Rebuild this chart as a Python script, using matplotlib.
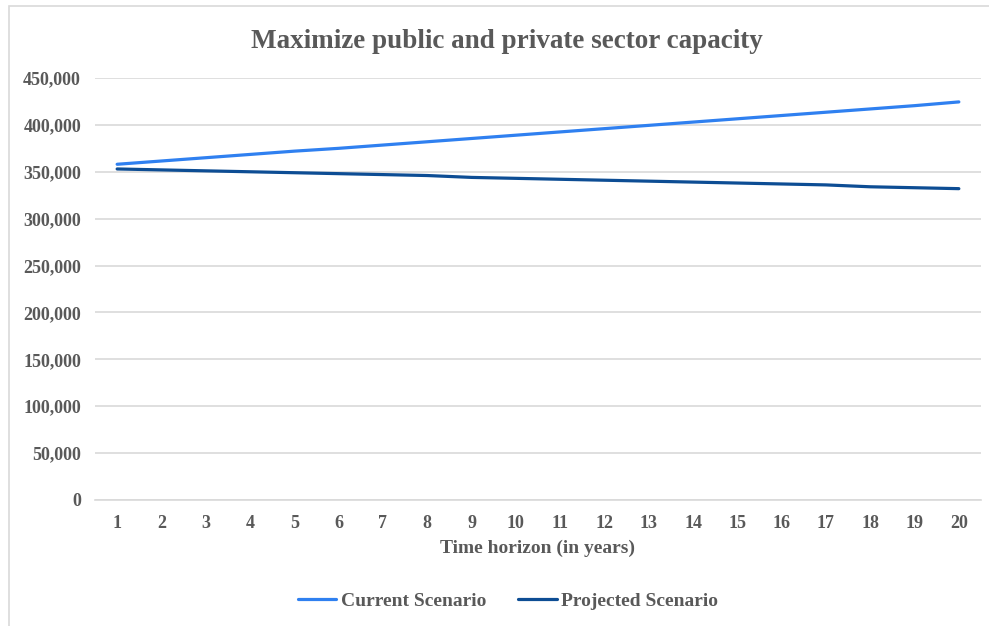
import matplotlib
matplotlib.use('Agg')
from matplotlib import pyplot as plt
from matplotlib.patches import Rectangle
from matplotlib.ticker import FuncFormatter, MultipleLocator

# data
years = list(range(1, 21))
current = [358000, 361500, 365000, 368500, 372000, 375000, 378500, 382000, 385500, 389000,
           392500, 396000, 399500, 403000, 406500, 410000, 413500, 417000, 420500, 424500]
projected = [353000, 352000, 351000, 350000, 349000, 348000, 347000, 346000, 344000, 343000,
             342000, 341000, 340000, 339000, 338000, 337000, 336000, 334000, 333000, 332000]

plt.rcParams['font.family'] = ['Liberation Serif', 'DejaVu Serif']
txt = '#595959'
grid = '#d9d9d9'

fig = plt.figure(figsize=(9.89, 6.26), dpi=100)
ax = fig.add_axes([95 / 989, 126 / 626, 886 / 989, 422 / 626])

# outer chart border (cut off on right and bottom like in the reference)
fig.patches.append(Rectangle((9 / 989, -0.1), 1.2, 0.1 + 620 / 626, transform=fig.transFigure,
                             fill=False, edgecolor=grid, linewidth=1.2))

ax.plot(years, current, color='#2f80f0', linewidth=2.3, label='Current Scenario',
        solid_capstyle='round')
ax.plot(years, projected, color='#0d4d94', linewidth=2.3, label='Projected Scenario',
        solid_capstyle='round')

ax.set_xlim(0.5, 20.5)
ax.set_ylim(0, 450000)
ax.yaxis.set_major_locator(MultipleLocator(50000))
ax.yaxis.set_major_formatter(FuncFormatter(lambda v, p: f'{int(v):,}'))
ax.set_xticks(years)
ax.grid(axis='y', color=grid, linewidth=1.2)
ax.set_axisbelow(True)
for s in ['top', 'right', 'left']:
    ax.spines[s].set_visible(False)
ax.spines['bottom'].set_color(grid)
ax.spines['bottom'].set_linewidth(1.2)
ax.tick_params(length=0, labelcolor=txt, labelsize=13)
ax.tick_params(axis='y', pad=10)
ax.tick_params(axis='x', pad=11)
for lab in ax.get_xticklabels() + ax.get_yticklabels():
    lab.set_fontweight('bold')

ax.set_xlabel('Time horizon (in years)', fontsize=14, fontweight='bold', color=txt, labelpad=5)
fig.text(507 / 989, 1 - 42 / 626, 'Maximize public and private sector capacity', ha='center',
         va='center', fontsize=19.5, fontweight='bold', color=txt)

leg = fig.legend(loc='center', bbox_to_anchor=(508 / 989, 1 - 601 / 626), ncol=2, frameon=False,
                 prop={'size': 14, 'weight': 'bold'}, handlelength=2.0, handletextpad=0.25,
                 columnspacing=1.6)
for t in leg.get_texts():
    t.set_color(txt)

plt.savefig('out.png', dpi=100)
